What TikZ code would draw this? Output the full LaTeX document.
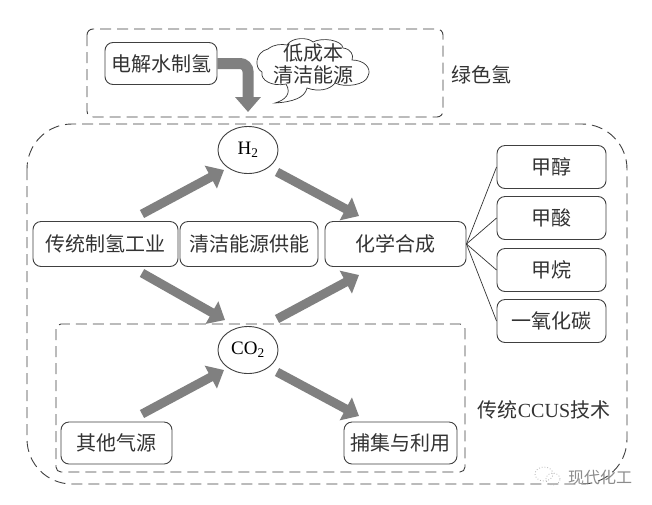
\documentclass[tikz,border=0pt]{standalone}
\usepackage{fontspec}
\setmainfont{Liberation Serif}
\newfontfamily\cjk{Noto Sans CJK SC}
\usetikzlibrary{arrows.meta,shapes.geometric}
\definecolor{ink}{gray}{0.2}
\definecolor{edgeg}{gray}{0.25}
\definecolor{fat}{gray}{0.5}
\tikzset{
 box/.style={draw=edgeg,line width=0.9pt,rounded corners=8pt,inner sep=0pt,align=center,text=ink,font=\fontsize{20}{22}\selectfont\cjk},
 oval/.style={draw=edgeg,line width=0.9pt,ellipse,inner sep=0pt,minimum width=60pt,minimum height=47pt,text=black,font=\fontsize{19}{20}\selectfont},
 dashbox/.style={draw=edgeg,line width=0.9pt,dash pattern=on 11pt off 6pt},
 fatarrow/.style={draw=fat,line width=9pt,-{Triangle[width=25pt,length=15pt]}},
 thin/.style={draw=ink,line width=0.7pt},
 lab/.style={text=ink,font=\fontsize{20}{24}\selectfont\cjk,align=center},
}
\begin{document}
\begin{tikzpicture}[x=1pt,y=-1pt]
\useasboundingbox (0,0) rectangle (652,504);
\fill[white] (0,0) rectangle (652,504);
% dashed frames
\draw[dashbox,rounded corners=6pt] (87,29) rectangle (443,117);
\draw[dashbox,rounded corners=45pt] (27,124) rectangle (627,484);
\draw[dashbox,rounded corners=5pt] (56,324) rectangle (465,472);
% nodes
\node[box,minimum width=112pt,minimum height=42pt] (elec) at (161,63.5) {电解水制氢};
\node[oval] (h2) at (248,150) {H\textsubscript{2}};
\node[oval] (co2) at (248,350) {CO\textsubscript{2}};
\node[box,minimum width=145pt,minimum height=45pt] (trad) at (105.5,244) {传统制氢工业};
\node[box,minimum width=138pt,minimum height=45pt] (clean) at (249,244) {清洁能源供能};
\node[box,minimum width=141pt,minimum height=45pt] (chem) at (395.5,244) {化学合成};
\node[box,minimum width=109pt,minimum height=43pt] (p1) at (551.5,167) {甲醇};
\node[box,minimum width=109pt,minimum height=43pt] (p2) at (551.5,218) {甲酸};
\node[box,minimum width=109pt,minimum height=43pt] (p3) at (551.5,270) {甲烷};
\node[box,minimum width=109pt,minimum height=43pt] (p4) at (551.5,321) {一氧化碳};
\node[box,minimum width=111pt,minimum height=42pt] (other) at (116.5,443) {其他气源};
\node[box,minimum width=113pt,minimum height=42pt] (capture) at (400.5,443) {捕集与利用};
% cloud callout
\draw[thin] (287,45) .. controls (292,37) and (308,37) .. (313,42)
 .. controls (322,37) and (342,40) .. (343,48)
 .. controls (351,49) and (354,55) .. (352,60)
 .. controls (364,60) and (372,68) .. (368,76)
 .. controls (366,85) and (345,88) .. (335,83)
 .. controls (330,90) and (318,92) .. (307,88)
 .. controls (305,98) and (292,102) .. (275,103)
 .. controls (285,100) and (292,94) .. (286,84)
 .. controls (272,87) and (260,80) .. (262,72)
 .. controls (254,68) and (255,52) .. (268,49)
 .. controls (274,44) and (282,44) .. (287,45) -- cycle;
\node[lab,font=\fontsize{20}{22}\selectfont\cjk] (cloudtext) at (313,64) {低成本\\清洁能源};
% labels
\node[lab] (green) at (481,75) {绿色氢};
\node[lab,font=\fontsize{20}{24}\selectfont] (ccus) at (544,410) {{\cjk 传统}CCUS{\cjk 技术}};
% watermark
\node[text=black!45,font=\fontsize{16}{18}\selectfont\cjk] (mark) at (600,477) {现代化工};
\draw[black!30,line width=0.8pt,dotted] (544,474) ellipse (9pt and 7pt);
\draw[black!30,line width=0.8pt,dotted] (553,479) ellipse (7pt and 6pt);
% connectors
\coordinate (a1) at (142,214); \coordinate (a2) at (224,170);
\coordinate (b1) at (277,172); \coordinate (b2) at (359,216);
\coordinate (c1) at (142,273); \coordinate (c2) at (225,320);
\coordinate (d1) at (277,319); \coordinate (d2) at (359,275);
\coordinate (e1) at (142,414); \coordinate (e2) at (224,370);
\coordinate (f1) at (277,372); \coordinate (f2) at (359,416);
\coordinate (gend) at (248,112);
\draw[fatarrow] (a1) -- (a2);
\draw[fatarrow] (b1) -- (b2);
\draw[fatarrow] (c1) -- (c2);
\draw[fatarrow] (d1) -- (d2);
\draw[fatarrow] (e1) -- (e2);
\draw[fatarrow] (f1) -- (f2);
\draw[fatarrow,line width=11pt,rounded corners=8pt] (elec.east) -| (gend);
\draw[thin] (chem.east) -- (p1.west);
\draw[thin] (chem.east) -- (p2.west);
\draw[thin] (chem.east) -- (p3.west);
\draw[thin] (chem.east) -- (p4.west);
\end{tikzpicture}
\end{document}
